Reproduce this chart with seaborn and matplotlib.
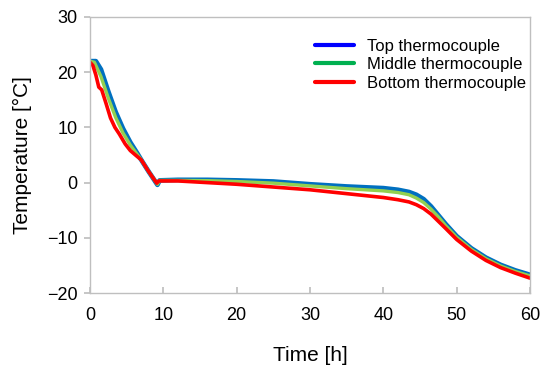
import pandas as pd
import numpy as np
import matplotlib.pyplot as plt
import seaborn as sns
from matplotlib.lines import Line2D

sns.set_theme(style="white")
plt.rcParams['font.family'] = ['Liberation Sans', 'DejaVu Sans']
plt.rcParams['text.color'] = 'black'
plt.rcParams['axes.labelcolor'] = 'black'

# Data
top_t = [0, 0.8, 1.5, 2.5, 3.5, 4.5, 5.5, 6.5, 7.0, 8.0, 9.2, 9.5, 12, 16, 20, 25, 30, 35, 40,
         42, 43.5, 44.5, 45.5, 46.5, 47.5, 48.5, 50, 52, 54, 56, 58, 60]
top_temp = [22, 22, 20.5, 16.5, 12.8, 9.8, 7.3, 5.2, 4.1, 2.0, -0.4, 0.4, 0.5, 0.5, 0.4, 0.2, -0.3, -0.7, -1.0,
            -1.3, -1.7, -2.2, -3.0, -4.3, -5.9, -7.5, -9.7, -11.9, -13.6, -14.9, -15.9, -16.7]

mid_t = [0, 0.6, 1.5, 2.5, 3.5, 4.5, 5.5, 6.5, 7.0, 8.0, 9.2, 9.5, 12, 16, 20, 25, 30, 35, 40,
         42, 43.5, 44.5, 45.5, 46.5, 47.5, 48.5, 50, 52, 54, 56, 58, 60]
mid_temp = [22, 21.8, 19.2, 15.3, 11.8, 9.0, 6.8, 5.0, 4.1, 2.0, -0.3, 0.4, 0.4, 0.35, 0.2, -0.1, -0.6, -1.1, -1.5,
            -1.8, -2.2, -2.8, -3.6, -4.8, -6.2, -7.8, -9.9, -12.1, -13.8, -15.1, -16.1, -16.9]

bot_t = [0, 0.4, 0.8, 1.2, 1.6, 2.2, 2.8, 3.4, 4.0, 4.8, 5.5, 6.2, 7.0, 8.0, 9.1, 9.4, 12, 16, 20, 25, 30, 35, 40,
         42, 43.5, 44.5, 45.5, 46.5, 47.5, 48.5, 50, 52, 54, 56, 58, 60]
bot_temp = [21.8, 21.2, 19.5, 17.3, 16.8, 14.3, 11.7, 10.0, 8.8, 7.0, 5.8, 5.0, 4.1, 2.0, -0.1, 0.3, 0.3, 0.0, -0.3, -0.8, -1.3, -2.0, -2.7,
            -3.1, -3.5, -4.0, -4.7, -5.7, -7.0, -8.3, -10.3, -12.4, -14.1, -15.4, -16.4, -17.3]

series = ['Top thermocouple', 'Middle thermocouple', 'Bottom thermocouple']
line_colors = ['#0070C0', '#92D050', '#FF0000']
legend_colors = ['#0000FF', '#00B050', '#FF0000']
widths = [3.4, 2.4, 2.6]

df = pd.concat([
    pd.DataFrame({'time': top_t, 'temp': top_temp, 'series': series[0]}),
    pd.DataFrame({'time': mid_t, 'temp': mid_temp, 'series': series[1]}),
    pd.DataFrame({'time': bot_t, 'temp': bot_temp, 'series': series[2]}),
])

fig = plt.figure(figsize=(5.5, 3.71), dpi=100)
ax = fig.add_axes([0.1636, 0.2102, 0.8, 0.744])

for name, col, lw in zip(series, line_colors, widths):
    sns.lineplot(data=df[df['series'] == name], x='time', y='temp', color=col,
                 sort=False, estimator=None, linewidth=lw, ax=ax, legend=False)

ax.set_xlim(0, 60)
ax.set_ylim(-20, 30)
ax.set_xticks(range(0, 61, 10))
ax.set_yticks(range(-20, 31, 10))
ax.set_xlabel('Time [h]', fontsize=15, labelpad=16)
ax.set_ylabel('Temperature [°C]', fontsize=15, labelpad=11)
ax.tick_params(axis='x', direction='in', length=4, color='#bfbfbf', labelcolor='black', labelsize=13, pad=10)
ax.tick_params(axis='y', direction='out', length=4, color='#bfbfbf', labelcolor='black', labelsize=13, pad=5)
ax.tick_params(axis='x', bottom=True)
ax.tick_params(axis='y', left=True)
for s in ax.spines.values():
    s.set_color('#bfbfbf')
    s.set_linewidth(1.0)

handles = [Line2D([0], [0], color=c, lw=3) for c in legend_colors]
ax.legend(handles, series, loc='upper right', frameon=False, fontsize=12,
          bbox_to_anchor=(1.025, 0.975), handlelength=2.3, handletextpad=0.8, labelspacing=0.2)

fig.savefig('out.png', dpi=100)
